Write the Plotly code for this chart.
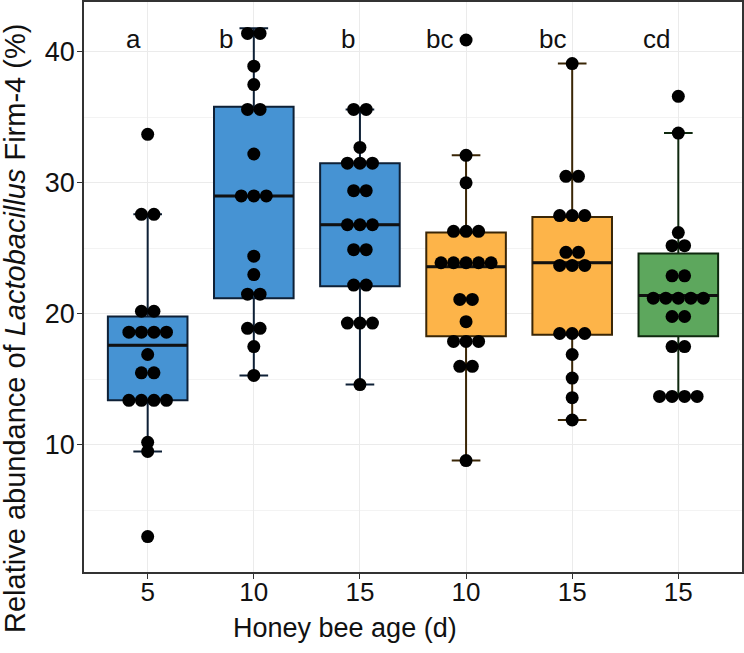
import plotly.graph_objects as go
from collections import Counter

# ---------------- data ----------------
age_labels = ["5", "10", "15", "10", "15", "15"]
letters = ["a", "b", "b", "bc", "bc", "cd"]
letter_y = 40.95

g1 = [33.7, 27.6, 27.6, 20.2, 20.2, 18.6, 18.6, 18.6, 18.6, 16.9, 15.5, 15.5,
      13.4, 13.4, 13.4, 13.4, 10.2, 9.5, 3.0]
g2 = [41.4, 41.4, 38.9, 37.5, 35.6, 35.6, 32.2, 29.0, 29.0, 29.0, 24.4, 23.0,
      21.5, 21.5, 18.9, 18.9, 17.5, 15.3]
g3 = [35.6, 35.6, 32.7, 31.5, 31.5, 31.5, 29.4, 29.4, 26.8, 26.8, 26.8, 24.9,
      24.9, 22.2, 22.2, 19.3, 19.3, 19.3, 14.6]
g4 = [40.9, 32.1, 30.0, 26.3, 26.3, 26.3, 23.9, 23.9, 23.9, 23.9, 23.9, 21.1,
      21.1, 19.4, 17.9, 17.9, 17.9, 16.0, 16.0, 8.8]
g5 = [39.1, 30.5, 30.5, 27.5, 27.5, 27.5, 24.7, 24.7, 23.7, 23.7, 23.7, 18.5,
      18.5, 18.5, 16.9, 15.1, 13.6, 11.9]
g6 = [36.6, 33.8, 26.2, 25.2, 25.2, 22.9, 22.9, 21.2, 21.2, 21.2, 21.2, 21.2,
      19.8, 19.8, 17.5, 17.5, 13.7, 13.7, 13.7, 13.7]
groups = [g1, g2, g3, g4, g5, g6]

q1 = [13.4, 21.2, 22.1, 18.3, 18.4, 18.3]
median = [17.6, 29.0, 26.8, 23.6, 23.9, 21.4]
q3 = [19.8, 35.8, 31.5, 26.2, 27.4, 24.6]
lowerfence = [9.5, 15.3, 14.6, 8.8, 11.9, 13.7]
upperfence = [27.6, 41.8, 35.6, 32.1, 39.1, 33.8]

# ---------------- style ----------------
fills = ["#4693D3", "#4693D3", "#4693D3", "#FDB449", "#FDB449", "#5DA75D"]
edges = ["#0E2036", "#0E2036", "#0E2036", "#3A2606", "#3A2606", "#0F290F"]
letter_shift = [-14, -28, -12, -27, -20, -22]
box_w = 0.75
dot_step = 0.118
FONT = "Liberation Sans, Arial, sans-serif"

fig = go.Figure()
xs = list(range(1, len(groups) + 1))

for i, x in enumerate(xs):
    fig.add_trace(go.Box(
        x=[x], q1=[q1[i]], median=[median[i]], q3=[q3[i]],
        lowerfence=[lowerfence[i]], upperfence=[upperfence[i]],
        width=box_w, whiskerwidth=0.36,
        fillcolor=fills[i], line=dict(color=edges[i], width=2),
        boxpoints=False, hoverinfo="skip", showlegend=False))

# thick median lines
mx, my = [], []
for i, x in enumerate(xs):
    mx += [x - box_w / 2, x + box_w / 2, None]
    my += [median[i], median[i], None]
fig.add_trace(go.Scatter(x=mx, y=my, mode="lines",
                         line=dict(color="#111111", width=3),
                         showlegend=False, hoverinfo="skip"))

# centred dot stacks
px, py = [], []
for i, x in enumerate(xs):
    counts = Counter(groups[i])
    for val, k in counts.items():
        for j in range(k):
            px.append(x + (j - (k - 1) / 2) * dot_step)
            py.append(val)
fig.add_trace(go.Scatter(x=px, y=py, mode="markers",
                         marker=dict(color="black", size=13),
                         showlegend=False, hoverinfo="skip"))

for i, x in enumerate(xs):
    fig.add_annotation(x=x, y=letter_y, text=letters[i], showarrow=False,
                       xshift=letter_shift[i],
                       font=dict(family=FONT, size=26, color="#111111"))

fig.add_annotation(xref="paper", yref="paper", x=-0.105, y=0.428,
                   text="Relative abundance of <i>Lactobacillus</i> Firm-4 (%)",
                   textangle=-90, showarrow=False, xanchor="center", yanchor="middle",
                   font=dict(family=FONT, size=29, color="#111111"))
fig.add_annotation(xref="paper", yref="paper", x=(345 - 84) / 658, y=-0.099,
                   text="Honey bee age (d)", showarrow=False,
                   xanchor="center", yanchor="middle",
                   font=dict(family=FONT, size=27, color="#111111"))

fig.update_layout(
    template="none",
    width=744, height=653,
    margin=dict(l=84, r=2, t=2, b=81),
    plot_bgcolor="white", paper_bgcolor="white",
    showlegend=False,
    xaxis=dict(range=[0.4, 6.6], tickvals=xs, ticktext=age_labels,
               automargin=False, ticklabelstandoff=-9,
               showgrid=True, gridcolor="#EBEBEB", gridwidth=1,
               zeroline=False, showline=True, mirror=True,
               linecolor="#333333", linewidth=1.5,
               ticks="outside", ticklen=5, tickcolor="#333333",
               tickfont=dict(family=FONT, size=26, color="#111111")),
    yaxis=dict(range=[0.3, 43.8], tickvals=[10, 20, 30, 40],
               automargin=False, ticklabelstandoff=-3,
               showgrid=True, gridcolor="#EBEBEB", gridwidth=1,
               minor=dict(tickvals=[5, 15, 25, 35], showgrid=True,
                          gridcolor="#F3F3F3", gridwidth=1),
               zeroline=False, showline=True, mirror=True,
               linecolor="#333333", linewidth=1.5,
               ticks="outside", ticklen=5, tickcolor="#333333",
               tickfont=dict(family=FONT, size=27, color="#111111")),
)

fig.write_html("out.html",
               config={"displayModeBar": False},
               post_script="document.body.style.margin='0px';"
                           "document.body.style.overflow='hidden';")
